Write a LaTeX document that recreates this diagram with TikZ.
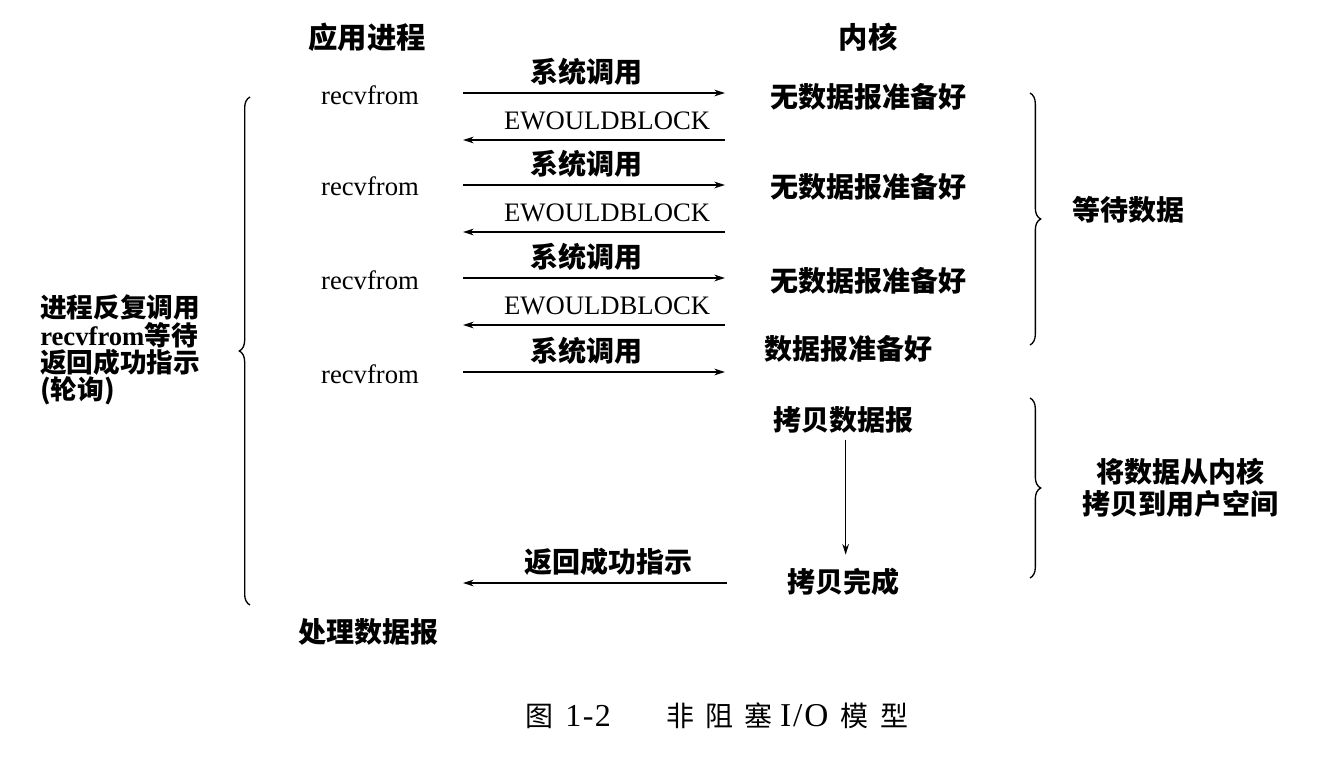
\documentclass[tikz,border=0pt]{standalone}
\usepackage{fontspec}
\setmainfont{Liberation Serif}
\newfontfamily\cjk{Noto Sans CJK SC}
\usetikzlibrary{arrows.meta, decorations.pathreplacing}
\tikzset{
  zh/.style={font=\cjk\bfseries\fontsize{21}{24}\selectfont, inner sep=0pt},
  en/.style={font=\fontsize{20}{24}\selectfont, inner sep=0pt},
  callarrow/.style={-{Stealth[length=8pt, width=5pt]}, line width=1pt},
  bracemark/.style={decorate, decoration={brace, amplitude=8pt}, line width=1pt}
}

\begin{document}
\begin{tikzpicture}[x=0.75pt, y=-0.75pt]
    \useasboundingbox (0,0) rectangle (1336,764);

    % Headers
    \node[zh, font=\cjk\bfseries\fontsize{22}{24}\selectfont] (app) at (367,37) {应用进程};
    \node[zh, font=\cjk\bfseries\fontsize{22}{24}\selectfont] (kernel) at (868,37) {内核};

    % Process side
    \node[en] (rf1) at (370,95) {recvfrom};
    \node[en] (rf2) at (370,186) {recvfrom};
    \node[en] (rf3) at (370,280) {recvfrom};
    \node[en] (rf4) at (370,374) {recvfrom};
    \node[zh] (proc) at (368,632) {处理数据报};

    % Kernel side
    \node[zh] (nd1) at (868,97) {无数据报准备好};
    \node[zh] (nd2) at (868,187) {无数据报准备好};
    \node[zh] (nd3) at (868,281) {无数据报准备好};
    \node[zh] (ready) at (848,349) {数据报准备好};
    \node[zh] (copy) at (843,420) {拷贝数据报};
    \node[zh] (done) at (843,582) {拷贝完成};

    % Arrow ends
    \coordinate (U1) at (463,93);  \coordinate (K1) at (725,93);
    \coordinate (U2) at (463,140); \coordinate (K2) at (725,140);
    \coordinate (U3) at (463,185); \coordinate (K3) at (725,185);
    \coordinate (U4) at (463,232); \coordinate (K4) at (725,232);
    \coordinate (U5) at (463,278); \coordinate (K5) at (725,278);
    \coordinate (U6) at (463,325); \coordinate (K6) at (725,325);
    \coordinate (U7) at (463,372); \coordinate (K7) at (725,372);
    \coordinate (U8) at (463,583); \coordinate (K8) at (727,583);

    % Calls and replies
    \draw[callarrow] (U1) -- node[zh, pos=0.47, above=5pt] {系统调用} (K1);
    \draw[callarrow] (K2) -- node[en, pos=0.45, above=7pt] {EWOULDBLOCK} (U2);
    \draw[callarrow] (U3) -- node[zh, pos=0.47, above=5pt] {系统调用} (K3);
    \draw[callarrow] (K4) -- node[en, pos=0.45, above=7pt] {EWOULDBLOCK} (U4);
    \draw[callarrow] (U5) -- node[zh, pos=0.47, above=5pt] {系统调用} (K5);
    \draw[callarrow] (K6) -- node[en, pos=0.45, above=7pt] {EWOULDBLOCK} (U6);
    \draw[callarrow] (U7) -- node[zh, pos=0.47, above=5pt] {系统调用} (K7);
    \draw[callarrow] (K8) -- node[zh, pos=0.45, above=5pt] {返回成功指示} (U8);

    % Copy step
    \draw[callarrow] ([xshift=2pt, yshift=-4.5pt]copy.south) -- ([xshift=2pt, yshift=10pt]done.north);

    % Braces
    \draw[bracemark] (250,605) -- (250,97);
    \draw[bracemark] (1030,93) -- (1030,345);
    \draw[bracemark] (1030,398) -- (1030,578);

    % Brace notes
    \node[zh, anchor=west, align=left, font=\cjk\bfseries\fontsize{20}{19}\selectfont] (poll) at (40,350)
      {进程反复调用\\{\rmfamily recvfrom}等待\\返回成功指示\\(轮询)};
    \node[zh] (wait) at (1128,210) {等待数据};
    \node[zh, align=center, font=\cjk\bfseries\fontsize{21}{24}\selectfont] (move) at (1180,488)
      {将数据从内核\\拷贝到用户空间};

    % Caption
    \node[font=\cjk\fontsize{21}{24}\selectfont] (caption) at (717,716)
      {图\hspace{9pt}{\rmfamily\fontsize{24}{24}\selectfont 1\kern1pt-\kern1pt2}\hspace{42pt}非\hspace{8pt}阻\hspace{8pt}塞\hspace{6pt}{\rmfamily\fontsize{25}{24}\selectfont I\kern1.5pt/\kern1.5pt O}\hspace{9pt}模\hspace{9pt}型};

\end{tikzpicture}
\end{document}
